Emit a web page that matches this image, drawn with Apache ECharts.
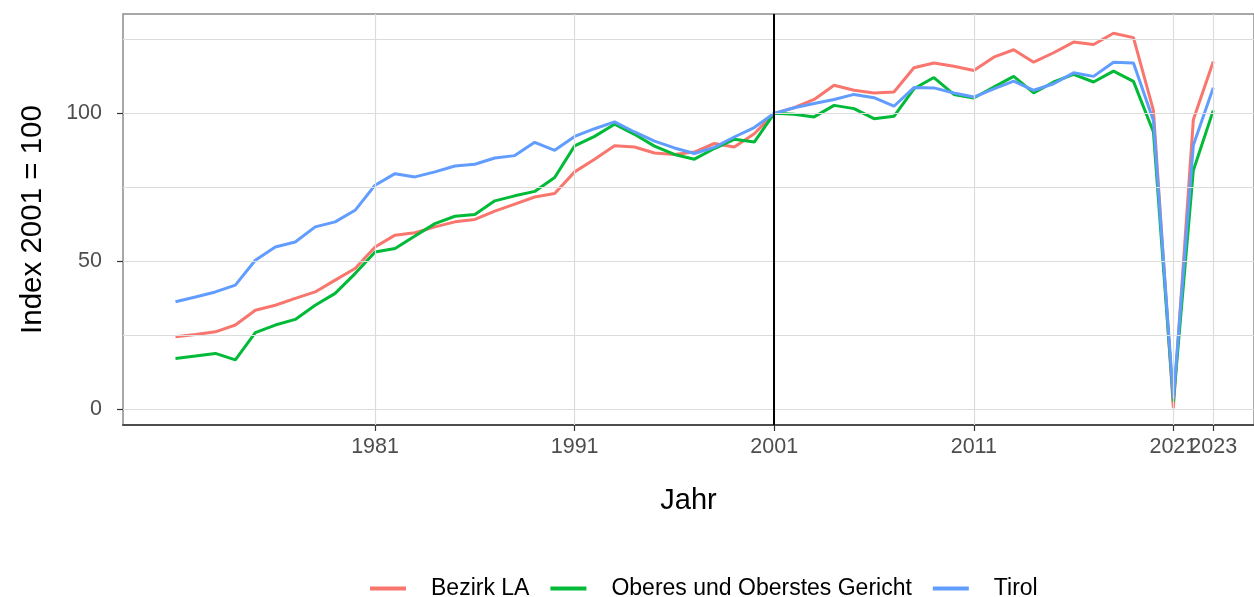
<!DOCTYPE html>
<html>
<head>
<meta charset="utf-8">
<script src="https://cdn.jsdelivr.net/npm/echarts@6/dist/echarts.min.js"></script>
<style>
  html, body { margin: 0; padding: 0; background: #fff; }
  #chart { width: 1254px; height: 597px; }
</style>
</head>
<body>
<div id="chart"></div>
<script>
// Jahre
var years = [1971, 1972, 1973, 1974, 1975, 1976, 1977, 1978, 1979, 1980,
             1981, 1982, 1983, 1984, 1985, 1986, 1987, 1988, 1989, 1990,
             1991, 1992, 1993, 1994, 1995, 1996, 1997, 1998, 1999, 2000,
             2001, 2002, 2003, 2004, 2005, 2006, 2007, 2008, 2009, 2010,
             2011, 2012, 2013, 2014, 2015, 2016, 2017, 2018, 2019, 2020,
             2021, 2022, 2023];

// Index 2001 = 100
var bezirkLA = [24.4, 25.2, 26.1, 28.4, 33.4, 35.1, 37.4, 39.6, 43.6, 47.5,
                54.8, 58.8, 59.6, 61.6, 63.3, 64.1, 66.9, 69.3, 71.7, 72.9,
                80.2, 84.5, 89.0, 88.6, 86.6, 86.1, 86.9, 89.8, 88.6, 93.1,
                100, 101.9, 104.7, 109.5, 107.8, 106.9, 107.2, 115.4, 117.0, 115.9,
                114.5, 119.0, 121.5, 117.3, 120.5, 124.1, 123.3, 127.1, 125.6, 101.0,
                0.3, 97.8, 117.5];
var oberesGericht = [17.1, 17.9, 18.8, 16.6, 25.8, 28.4, 30.3, 35.1, 39.1, 45.8,
                     53.1, 54.3, 58.5, 62.7, 65.2, 65.8, 70.4, 72.1, 73.6, 78.3,
                     89.0, 92.2, 96.3, 92.9, 88.9, 86.1, 84.5, 88.1, 91.2, 90.3,
                     100, 99.7, 98.8, 102.7, 101.6, 98.2, 99.0, 108.3, 112.1, 106.4,
                     105.2, 108.9, 112.5, 106.9, 110.6, 113.2, 110.6, 114.3, 110.8, 93.7,
                     2.5, 80.7, 101.0];
var tirol = [36.3, 37.9, 39.6, 41.9, 50.3, 54.8, 56.5, 61.6, 63.3, 67.2,
             75.7, 79.6, 78.5, 80.2, 82.2, 82.8, 84.9, 85.7, 90.2, 87.5,
             92.2, 94.8, 97.1, 93.7, 90.6, 88.3, 86.4, 88.5, 92.0, 95.2,
             100, 101.9, 103.3, 104.7, 106.4, 105.3, 102.4, 108.7, 108.6, 106.9,
             105.5, 108.3, 110.9, 107.8, 110.0, 113.7, 112.5, 117.3, 117.0, 97.6,
             3.5, 89.2, 108.7];

var seriesNames = ['Bezirk LA', 'Oberes und Oberstes Gericht', 'Tirol'];
var seriesColors = ['#F8766D', '#00BA38', '#619CFF'];

// Achsen
var xBreaks = [1981, 1991, 2001, 2011, 2021, 2023];
var yBreaks = [0, 50, 100];
var yGrid = [0, 25, 50, 75, 100, 125];
var refYear = 2001;

var chart = echarts.init(document.getElementById('chart'));

function pairs(vals) {
    return years.map(function (y, i) { return [y, vals[i]]; });
}

var font = 'Liberation Sans, Arial, sans-serif';

var gridLines = [];
xBreaks.forEach(function (x) { gridLines.push({ xAxis: x }); });
yGrid.forEach(function (y) { gridLines.push({ yAxis: y }); });

// 2021 und 2023 überlappen sich -> letzter Wert auf eigener Achse, sonst blendet ECharts einen aus
var xMain = xBreaks.slice(0, -1);
var xLast = xBreaks.slice(-1);

var tickStyle = { show: true, length: 6, lineStyle: { color: '#333', width: 1.2 } };
var xLabelStyle = {
    hideOverlap: false, showMinLabel: true, showMaxLabel: true,
    margin: 11, fontFamily: font, fontSize: 21.5, color: '#4d4d4d',
    formatter: function (v) { return String(v); }
};

var option = {
    animation: false,
    backgroundColor: '#ffffff',
    grid: {
        left: 123, top: 14, width: 1131, height: 411,
        show: true, borderColor: '#8c8c8c', borderWidth: 1.5,
        containLabel: false, outerBoundsMode: 'none'
    },
    legend: {
        left: 370, top: 577, padding: 0,
        icon: 'rect', itemWidth: 36, itemHeight: 4, itemGap: 21,
        textStyle: { fontFamily: font, fontSize: 23, color: '#000', padding: [0, 0, 0, 20] },
        data: seriesNames
    },
    xAxis: [
        {
            type: 'value', min: 1968.37, max: 2025.04, position: 'bottom',
            name: 'Jahr', nameLocation: 'middle', nameGap: 61,
            nameTextStyle: { fontFamily: font, fontSize: 29, color: '#000' },
            axisLine: { show: true, onZero: false, lineStyle: { color: '#4d4d4d', width: 2 } },
            axisTick: Object.assign({ customValues: xMain }, tickStyle),
            axisLabel: Object.assign({ customValues: xMain }, xLabelStyle),
            splitLine: { show: false }
        },
        {
            type: 'value', min: 1968.37, max: 2025.04, position: 'bottom', offset: 0,
            axisLine: { show: false, onZero: false },
            axisTick: Object.assign({ customValues: xLast }, tickStyle),
            axisLabel: Object.assign({ customValues: xLast }, xLabelStyle),
            splitLine: { show: false }
        }
    ],
    yAxis: {
        type: 'value', min: -5.41, max: 133.6,
        name: 'Index 2001 = 100', nameLocation: 'middle', nameGap: 75, nameRotate: 90,
        nameTextStyle: { fontFamily: font, fontSize: 29.5, color: '#000' },
        axisLine: { show: false },
        axisTick: Object.assign({ customValues: yBreaks }, tickStyle),
        axisLabel: {
            customValues: yBreaks, margin: 21,
            fontFamily: font, fontSize: 21.5, color: '#4d4d4d'
        },
        splitLine: { show: false }
    },
    series: [
        {
            name: '_grid', type: 'line', data: [], silent: true, z: 1,
            markLine: {
                silent: true, symbol: ['none', 'none'], label: { show: false },
                lineStyle: { color: '#dcdcdc', width: 1.2, type: 'solid' },
                data: gridLines
            }
        }
    ].concat([bezirkLA, oberesGericht, tirol].map(function (vals, i) {
        return {
            name: seriesNames[i], type: 'line', data: pairs(vals),
            showSymbol: false, symbol: 'none', z: 3,
            lineStyle: { color: seriesColors[i], width: 3 },
            itemStyle: { color: seriesColors[i] }
        };
    })).concat([{
        name: '_ref', type: 'line', data: [], silent: true, z: 4,
        markLine: {
            silent: true, symbol: ['none', 'none'], label: { show: false },
            lineStyle: { color: '#000', width: 2, type: 'solid' },
            data: [{ xAxis: refYear }]
        }
    }])
};

chart.setOption(option);
</script>
</body>
</html>
